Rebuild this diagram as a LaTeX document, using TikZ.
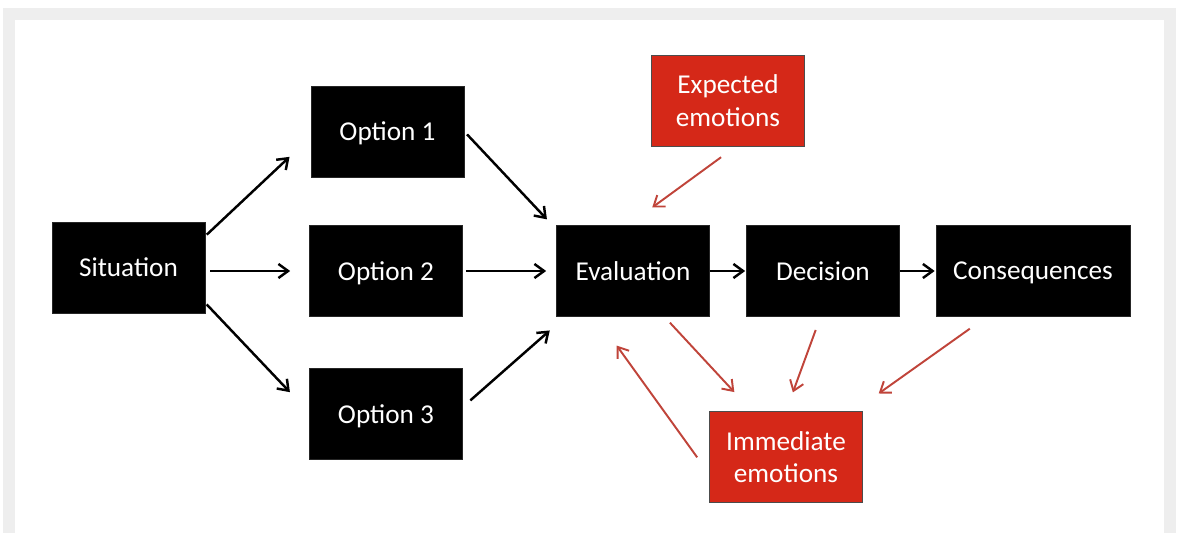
\documentclass[tikz,border=0pt]{standalone}
\usepackage{fontspec}
\setmainfont{Carlito}
\usetikzlibrary{arrows.meta,calc}
\definecolor{framegray}{HTML}{EEEEEE}
\definecolor{boxred}{HTML}{D52818}
\definecolor{arrred}{HTML}{C0443A}
\tikzset{
  blk/.style={draw=black!85, fill=black, text=white, minimum width=3.06cm, minimum height=1.82cm, inner sep=0pt, font=\fontsize{15.5}{18.5}\selectfont, align=center, text depth=0pt},
  redbox/.style={blk, draw=black!70, fill=boxred},
  arr/.style={line width=1.4pt, -{Straight Barb[length=5.5pt,width=8pt,line width=1.4pt]}},
  rarr/.style={draw=arrred, line width=1.1pt, -{Straight Barb[length=5.5pt,width=8pt,line width=1.1pt]}}
}
\begin{document}
\begin{tikzpicture}[x=0.02cm,y=-0.02cm]
\useasboundingbox (0,0) rectangle (1178,533);
\fill[framegray] (3,8) rectangle (1176,533);
\fill[white] (15,20) rectangle (1164,533);
% nodes
\node[blk] (sit) at (128.5,267.5) {Situation};
\node[blk] (opt1) at (387.5,131.5) {Option 1};
\node[blk] (opt2) at (386,271) {Option 2};
\node[blk] (opt3) at (386,414) {Option 3};
\node[blk] (eval) at (633,271) {Evaluation};
\node[blk] (dec) at (823,271) {Decision};
\node[blk, minimum width=3.88cm] (cons) at (1033,271) {Consequences};
\node[redbox] (exp) at (728,100.5) {Expected\\emotions};
\node[redbox] (imm) at (786,457) {Immediate\\emotions};
% black arrows
\draw[arr, shorten <=0.04cm, shorten >=0.58cm] ([yshift=0.63cm]sit.east) -- ([yshift=-0.11cm]opt1.west);
\draw[arr, shorten <=0.1cm, shorten >=0.38cm] (sit.east |- opt2.west) -- (opt2.west);
\draw[arr, shorten <=0.04cm, shorten >=0.56cm] ([yshift=-0.71cm]sit.east) -- ([yshift=0.03cm]opt3.west);
\draw[arr, shorten <=0.08cm, shorten >=0.27cm] (opt1.east) -- ([yshift=-0.08cm]eval.north west);
\draw[arr, shorten <=0.06cm, shorten >=0.2cm] (opt2.east) -- (eval.west);
\draw[arr, shorten <=0.2cm, shorten >=0.17cm] ([yshift=0.14cm]opt3.east) -- ([yshift=-0.16cm]eval.south west);
\draw[arr, shorten >=0.02cm] (eval.east) -- (dec.west);
\draw[arr, shorten >=0.02cm] (dec.east) -- (cons.west);
% red arrows
\draw[rarr, shorten <=0.37cm, shorten >=0.6cm] ([xshift=0.16cm]exp.south) -- ([xshift=-0.1cm]eval.north);
\draw[rarr, shorten <=0.16cm, shorten >=0.52cm] ([xshift=0.63cm]eval.south) -- ([xshift=-0.68cm]imm.north);
\draw[rarr, shorten <=0.28cm, shorten >=0.4cm] ([xshift=-0.05cm]dec.south) -- (imm.north);
\draw[rarr, shorten <=0.41cm, shorten >=0.61cm] ([xshift=-0.93cm]cons.south) -- ([xshift=-0.18cm]imm.north east);
\draw[rarr, shorten <=0.41cm, shorten >=0.71cm] ([yshift=-0.34cm]imm.west) -- ([xshift=-0.74cm]eval.south);
\end{tikzpicture}
\end{document}
